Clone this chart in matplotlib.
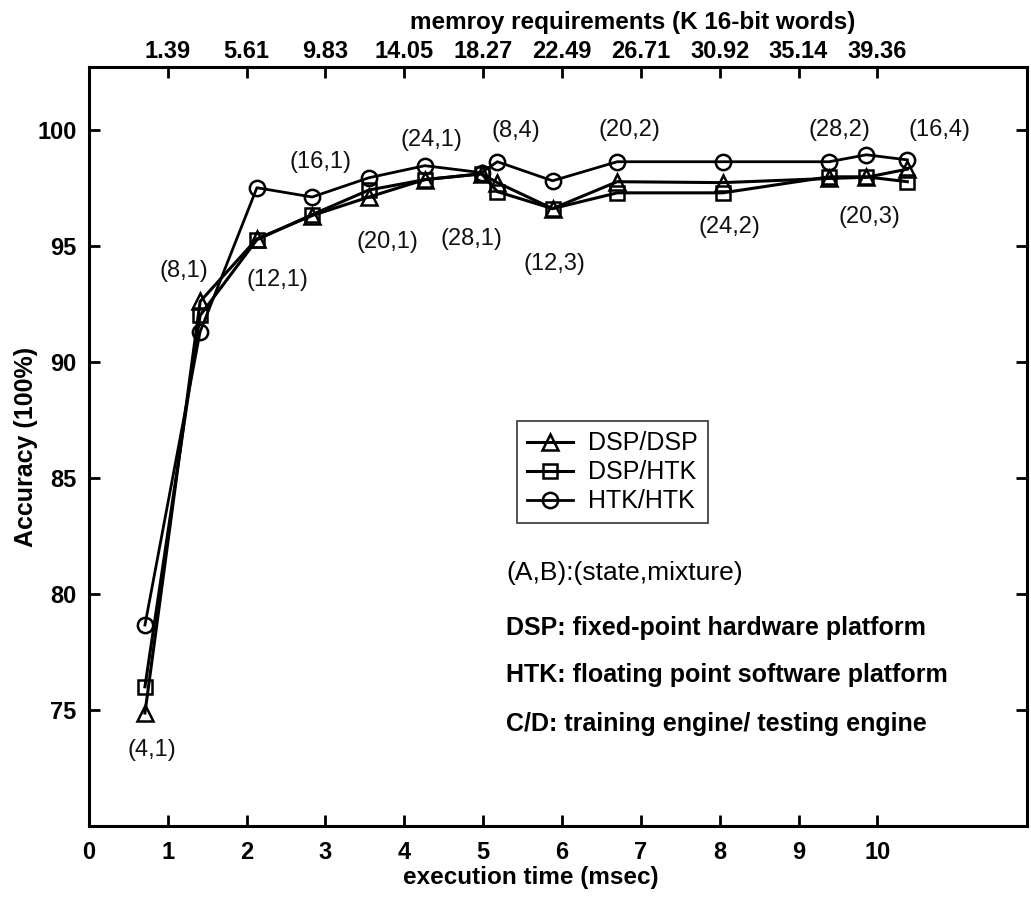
import numpy as np
import matplotlib
matplotlib.use("Agg")
import matplotlib.pyplot as plt

plt.rcParams['font.family'] = ['Liberation Sans', 'DejaVu Sans']

# execution time (msec) of each (state,mixture) model
t = [0.71, 1.41, 2.13, 2.83, 3.55, 4.26, 4.98, 5.18, 5.88, 6.70, 8.04, 9.39, 9.86, 10.38]
dsp_dsp = [74.87, 92.6, 95.3, 96.3, 97.1, 97.85, 98.1, 97.72, 96.6, 97.76, 97.72, 97.9, 97.95, 98.3]
dsp_htk = [76.0, 92.0, 95.26, 96.34, 97.4, 97.85, 98.1, 97.33, 96.6, 97.28, 97.28, 97.97, 97.97, 97.76]
htk_htk = [78.66, 91.3, 97.5, 97.1, 97.93, 98.45, 98.15, 98.62, 97.8, 98.62, 98.62, 98.62, 98.92, 98.7]
models = ["(4,1)", "(8,1)", "(12,1)", "(16,1)", "(20,1)", "(24,1)", "(28,1)",
          "(8,4)", "(12,3)", "(20,2)", "(24,2)", "(28,2)", "(20,3)", "(16,4)"]

mem_ticks = [1, 2, 3, 4, 5, 6, 7, 8, 9, 10]
mem_labels = ["1.39", "5.61", "9.83", "14.05", "18.27", "22.49", "26.71", "30.92", "35.14", "39.36"]

notes = ["(A,B):(state,mixture)",
         "DSP: fixed-point hardware platform",
         "HTK: floating point software platform",
         "C/D: training engine/ testing engine"]

# label anchor series and pixel offset for each label
anchor = ["t", "t", "s", "c", "t", "c", "s", "c", "s", "c", "s", "c", "s", "c"]
offs = [(7, -37), (-16, 30), (21, -40), (8, 35), (19, -45), (7, 26), (-10, -65),
        (19, 31), (2, -55), (12, 32), (7, -34), (10, 32), (3, -40), (32, 30)]

fig = plt.figure(figsize=(10.31, 9.01), dpi=100)
ax = fig.add_axes([0.0863, 0.0832, 0.910, 0.8424])

ax.plot(t, dsp_dsp, "-^", color="black", lw=2.2, ms=11, mfc="none", mew=1.8, label="DSP/DSP")
ax.plot(t, dsp_htk, "-s", color="black", lw=2.2, ms=10, mfc="none", mew=1.8, label="DSP/HTK")
ax.plot(t, htk_htk, "-o", color="black", lw=2.0, ms=11, mfc="none", mew=1.8, label="HTK/HTK")

ser = {"t": dsp_dsp, "s": dsp_htk, "c": htk_htk}
for i, lab in enumerate(models):
    ax.annotate(lab, (t[i], ser[anchor[i]][i]), xytext=offs[i], textcoords="offset pixels",
                ha="center", va="center", fontsize=17, color="#111111")

ax.set_xlim(0, 11.9)
ax.set_ylim(70, 102.7)
ax.set_xticks(range(0, 11))
ax.set_yticks([75, 80, 85, 90, 95, 100])
ax.tick_params(direction="in", length=8, width=2, labelsize=17, right=True)
ax.tick_params(axis="x", pad=11)
ax.tick_params(axis="y", pad=9)
for lb in ax.get_xticklabels() + ax.get_yticklabels():
    lb.set_fontweight("bold")
for sp in ax.spines.values():
    sp.set_linewidth(2.2)

ax.set_xlabel("execution time (msec)", fontsize=17.5, fontweight="bold")
ax.xaxis.set_label_coords(0.471, -0.053)
ax.set_ylabel("Accuracy (100%)", fontsize=18, fontweight="bold", labelpad=-1)

top = ax.secondary_xaxis("top")
top.set_xticks(mem_ticks)
top.set_xticklabels(mem_labels, fontsize=17, fontweight="bold")
top.tick_params(direction="in", length=8, width=2, pad=3)
ax.text(0.579, 1.059, "memroy requirements (K 16-bit words)", transform=ax.transAxes,
        ha="center", va="center", fontsize=17.5, fontweight="bold")

leg = ax.legend(loc="upper left", bbox_to_anchor=(0.456, 0.533), fontsize=18,
                frameon=True, fancybox=False, edgecolor="black", handlelength=1.85,
                borderpad=0.4, labelspacing=0.2, handletextpad=0.6, borderaxespad=0)
leg.get_frame().set_linewidth(1.2)

ny = [80.9, 78.55, 76.5, 74.4]
for s, y in zip(notes, ny):
    if s[0] == "(":
        ax.text(5.29, y, s, fontsize=19, va="center", ha="left")
    else:
        ax.text(5.29, y, s, fontsize=18, va="center", ha="left", fontweight="bold")

fig.savefig("out.png", dpi=100)
